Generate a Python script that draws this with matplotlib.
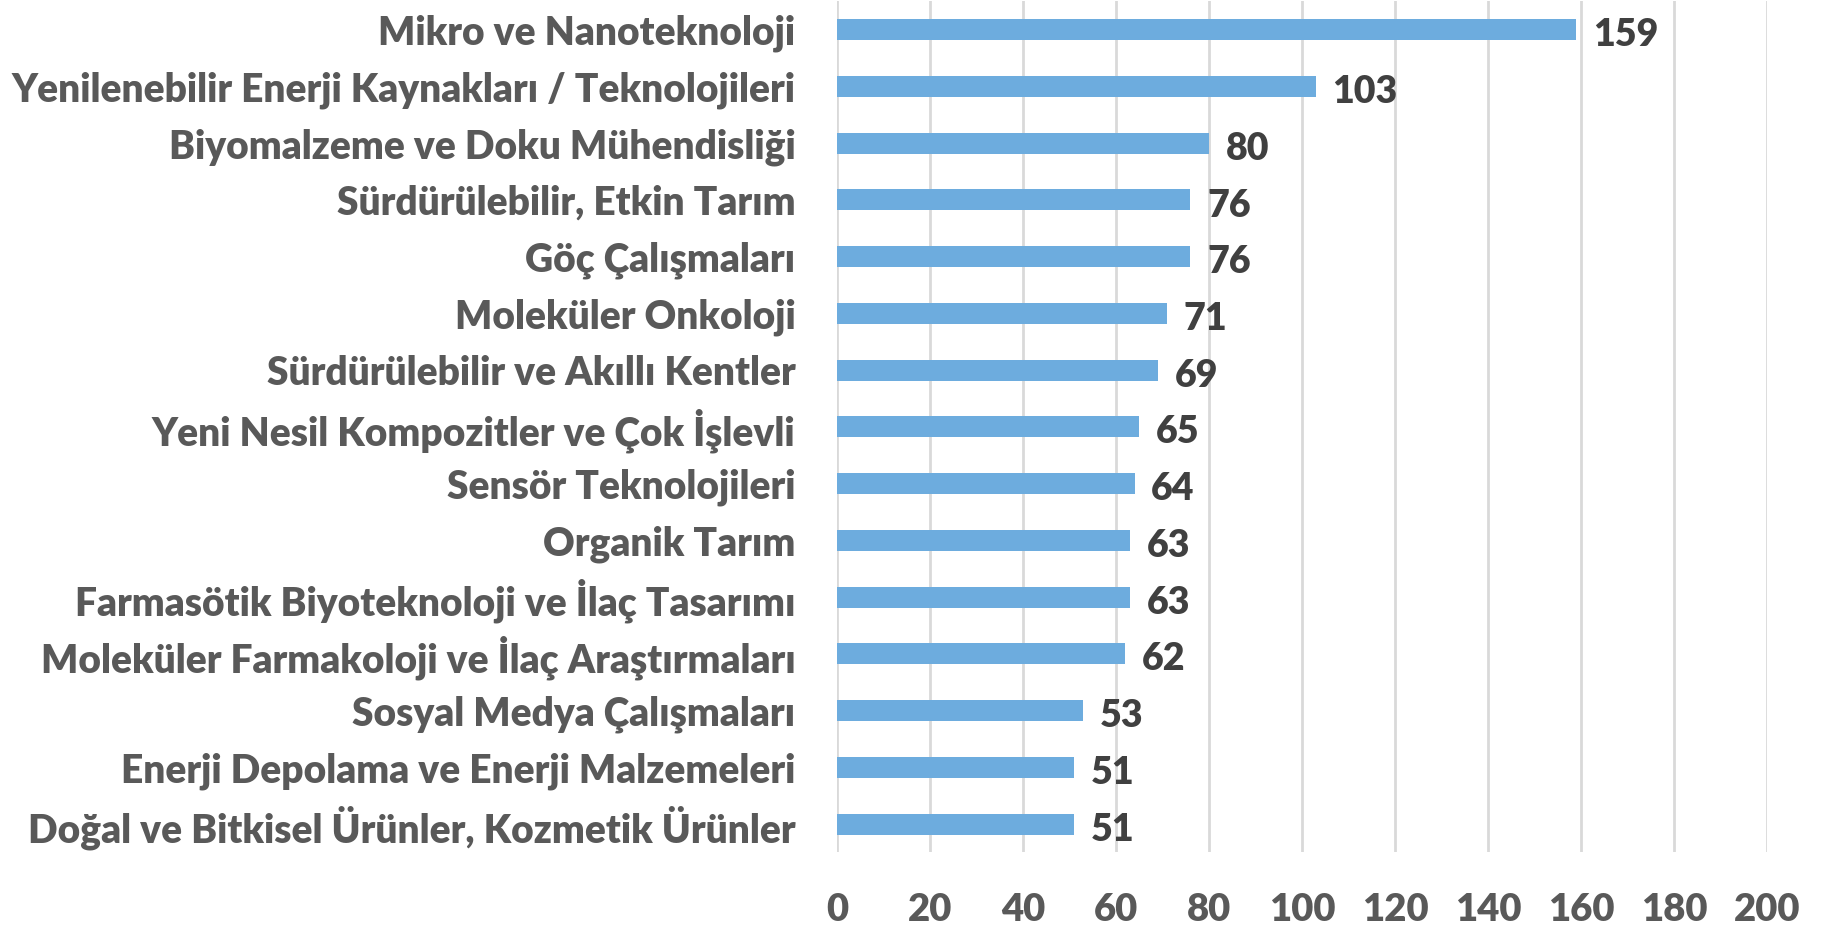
import matplotlib.pyplot as plt

# --- data ---
categories = [
    "Mikro ve Nanoteknoloji",
    "Yenilenebilir Enerji Kaynakları / Teknolojileri",
    "Biyomalzeme ve Doku Mühendisliği",
    "Sürdürülebilir, Etkin Tarım",
    "Göç Çalışmaları",
    "Moleküler Onkoloji",
    "Sürdürülebilir ve Akıllı Kentler",
    "Yeni Nesil Kompozitler ve Çok İşlevli",
    "Sensör Teknolojileri",
    "Organik Tarım",
    "Farmasötik Biyoteknoloji ve İlaç Tasarımı",
    "Moleküler Farmakoloji ve İlaç Araştırmaları",
    "Sosyal Medya Çalışmaları",
    "Enerji Depolama ve Enerji Malzemeleri",
    "Doğal ve Bitkisel Ürünler, Kozmetik Ürünler",
]
counts = [159, 103, 80, 76, 76, 71, 69, 65, 64, 63, 63, 62, 53, 51, 51]
xticks = [0, 20, 40, 60, 80, 100, 120, 140, 160, 180, 200]

plt.rcParams['font.family'] = ['Lato', 'DejaVu Sans']

fig = plt.figure(figsize=(18.25, 9.27), dpi=100)
ax = fig.add_axes([0.4586, 0.0805, 0.5096, 0.918])

ax.barh(range(len(categories)), counts, height=0.37, color='#6DACDE', zorder=3)

# value labels, nudged a bit below bar centre like the original
for i, c in enumerate(counts):
    ax.annotate(str(c), (c, i), xytext=(12, -4), textcoords='offset points',
                ha='left', va='center', fontsize=27, fontweight='heavy', color='#404040')

ax.set_yticks(range(len(categories)))
ax.set_yticklabels(categories, fontsize=28, fontweight='heavy', color='#595959')
ax.set_ylim(len(categories) - 0.5, -0.5)

ax.set_xlim(0, 200)
ax.set_xticks(xticks)
ax.set_xticklabels([str(t) for t in xticks], fontsize=27.5, fontweight='heavy', color='#595959')
ax.xaxis.grid(True, color='#D9D9D9', linewidth=2, zorder=0)

ax.tick_params(axis='y', length=0, pad=30)
ax.tick_params(axis='x', length=0, pad=29)
for s in ax.spines.values():
    s.set_visible(False)

fig.savefig('out.png', dpi=100)
